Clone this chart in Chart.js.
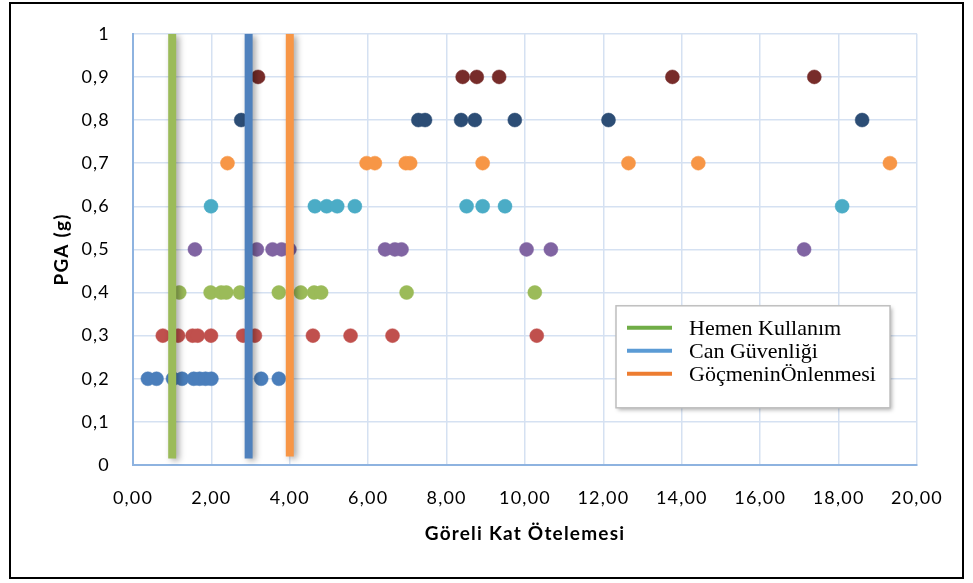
<!DOCTYPE html>
<html lang="tr">
<head>
<meta charset="utf-8">
<title>PGA – Göreli Kat Ötelemesi</title>
<script src="https://cdn.jsdelivr.net/npm/chart.js@4.4.1/dist/chart.umd.min.js"></script>
<style>
  html, body { margin: 0; padding: 0; background: #fff; }
  #wrap { position: relative; width: 973px; height: 583px; }
  #frame { position: absolute; left: 9px; top: 2px; width: 951px; height: 573px; border: 2px solid #000; pointer-events: none; }
  canvas { position: absolute; left: 0; top: 0; }
</style>
</head>
<body>
<div id="wrap">
  <canvas id="c" width="973" height="583"></canvas>
  <div id="frame"></div>
</div>
<script>
// PGA levels (g) and the storey drift values recorded at each level
const pgaLevels = [0.2, 0.3, 0.4, 0.5, 0.6, 0.7, 0.8, 0.9];
const drift02 = [0.38, 0.60, 1.02, 1.25, 1.55, 1.70, 1.85, 2.00, 3.27, 3.72];
const drift03 = [0.76, 1.15, 1.52, 1.65, 1.99, 2.81, 3.11, 4.59, 5.55, 6.62, 10.30];
const drift04 = [1.18, 1.98, 2.25, 2.38, 2.73, 3.72, 4.28, 4.62, 4.80, 6.98, 10.25];
const drift05 = [1.58, 3.16, 3.56, 3.79, 3.99, 6.43, 6.68, 6.85, 10.04, 10.66, 17.12];
const drift06 = [1.99, 4.64, 4.94, 5.21, 5.66, 8.51, 8.92, 9.49, 18.09];
const drift07 = [2.41, 5.96, 6.17, 6.96, 7.07, 8.92, 12.64, 14.42, 19.31];
const drift08 = [2.76, 7.28, 7.45, 8.37, 8.72, 9.74, 12.13, 18.60];
const drift09 = [3.19, 8.41, 8.77, 9.34, 13.76, 17.38];
const driftSets = [drift02, drift03, drift04, drift05, drift06, drift07, drift08, drift09];
const pointColors = ['#4A7EBB', '#C0504D', '#9BBB59', '#8064A2', '#4BACC6', '#F79646', '#2C4D75', '#772C2A'];

// Performance limits (vertical lines)
const limitNames = ['Hemen Kullanım', 'Can Güvenliği', 'GöçmeninÖnlenmesi'];
const limitDrift = [1.0, 2.95, 4.0];
const limitBottom = [0.015, 0.015, 0.02];
const limitTop = [1, 1, 1];
const limitColors = ['#9BBB59', '#4F81BD', '#F79646'];
const limitKeyColors = ['#70AD47', '#5B9BD5', '#ED7D31'];

// X ticks: 0,00 ... 20,00 ; Y ticks: 0 ... 1
const xTickStep = 2;
const yTickStep = 0.1;

const datasets = [];
limitNames.forEach((name, i) => {
  datasets.push({
    type: 'line',
    label: name,
    data: [{ x: limitDrift[i], y: limitBottom[i] }, { x: limitDrift[i], y: limitTop[i] }],
    borderColor: limitColors[i],
    borderWidth: 8,
    borderCapStyle: 'butt',
    pointRadius: 0,
    fill: false,
    order: 0,
    isLimit: true
  });
});
driftSets.forEach((arr, i) => {
  datasets.push({
    type: 'scatter',
    label: 'PGA ' + String(pgaLevels[i]).replace('.', ',') + ' g',
    data: arr.map(v => ({ x: v, y: pgaLevels[i] })),
    backgroundColor: pointColors[i],
    borderColor: pointColors[i],
    borderWidth: 0.5,
    pointRadius: 7,
    pointHoverRadius: 7,
    order: 1
  });
});

// Slightly wider letter spacing for the axis text
const wideText = {
  id: 'wideText',
  beforeDraw(chart) { chart.ctx.letterSpacing = '1.2px'; },
  afterDraw(chart) { chart.ctx.letterSpacing = '0px'; }
};

// Soft drop shadow behind the limit lines
const lineShadow = {
  id: 'lineShadow',
  beforeDatasetDraw(chart, args) {
    const ds = chart.data.datasets[args.index];
    if (!ds.isLimit) return;
    const ctx = chart.ctx;
    ctx.save();
    ctx.shadowColor = 'rgba(0,0,0,0.35)';
    ctx.shadowBlur = 6;
    ctx.shadowOffsetX = 3;
    ctx.shadowOffsetY = 2;
  },
  afterDatasetDraw(chart, args) {
    const ds = chart.data.datasets[args.index];
    if (!ds.isLimit) return;
    chart.ctx.restore();
  }
};

// Key for the limit lines, boxed inside the plot area
const limitKey = {
  id: 'limitKey',
  afterDraw(chart) {
    const ctx = chart.ctx;
    const a = chart.chartArea;
    const bx = a.left + 483, by = a.top + 272, bw = 274, bh = 102;
    ctx.save();
    ctx.letterSpacing = '0px';
    ctx.shadowColor = 'rgba(0,0,0,0.3)';
    ctx.shadowBlur = 4;
    ctx.shadowOffsetX = 2;
    ctx.shadowOffsetY = 2;
    ctx.fillStyle = '#ffffff';
    ctx.fillRect(bx, by, bw, bh);
    ctx.restore();
    ctx.save();
    ctx.letterSpacing = '0px';
    ctx.strokeStyle = '#BFBFBF';
    ctx.lineWidth = 1.5;
    ctx.strokeRect(bx, by, bw, bh);
    ctx.font = '22px "Liberation Serif", "Times New Roman", serif';
    ctx.textBaseline = 'middle';
    ctx.fillStyle = '#000';
    limitNames.forEach((name, i) => {
      const y = by + 22 + i * 23;
      ctx.strokeStyle = limitKeyColors[i];
      ctx.lineWidth = 4;
      ctx.beginPath();
      ctx.moveTo(bx + 11, y);
      ctx.lineTo(bx + 56, y);
      ctx.stroke();
      ctx.fillText(name, bx + 73, y + 1);
    });
    ctx.restore();
  }
};

const fmt = (v, d) => v.toFixed(d).replace('.', ',');

new Chart(document.getElementById('c'), {
  data: { datasets },
  options: {
    responsive: false,
    animation: false,
    events: [],
    layout: { padding: { left: 0, right: 56, top: 29, bottom: 0 } },
    plugins: { legend: { display: false }, tooltip: { enabled: false } },
    scales: {
      x: {
        type: 'linear',
        min: 0, max: 20,
        afterFit(s) { s.height = 118; },
        ticks: {
          stepSize: xTickStep,
          padding: 22,
          color: '#000',
          font: { family: 'Lato', size: 18 },
          maxRotation: 0,
          autoSkip: false,
          callback: v => fmt(v, 2)
        },
        grid: { color: '#D5E1F2', lineWidth: 1.5, drawTicks: false },
        border: { color: '#8EB3E0', width: 2 },
        title: {
          display: true,
          text: 'Göreli Kat Ötelemesi',
          color: '#000',
          font: { family: 'Lato', size: 19, weight: 'bold' },
          padding: { top: 0, bottom: 38 }
        }
      },
      y: {
        type: 'linear',
        min: 0, max: 1,
        afterFit(s) { s.width = 133; },
        ticks: {
          stepSize: yTickStep,
          padding: 23,
          color: '#000',
          font: { family: 'Lato', size: 18 },
          callback: v => (Math.abs(v) < 1e-9 ? '0' : Math.abs(v - 1) < 1e-9 ? '1' : fmt(v, 1))
        },
        grid: { color: '#D5E1F2', lineWidth: 1.5, drawTicks: false },
        border: { color: '#8EB3E0', width: 2 },
        title: {
          display: true,
          text: 'PGA (g)',
          color: '#000',
          font: { family: 'Lato', size: 19, weight: 'bold' },
          padding: { top: 50, bottom: 0 }
        }
      }
    }
  },
  plugins: [wideText, lineShadow, limitKey]
});
</script>
</body>
</html>
